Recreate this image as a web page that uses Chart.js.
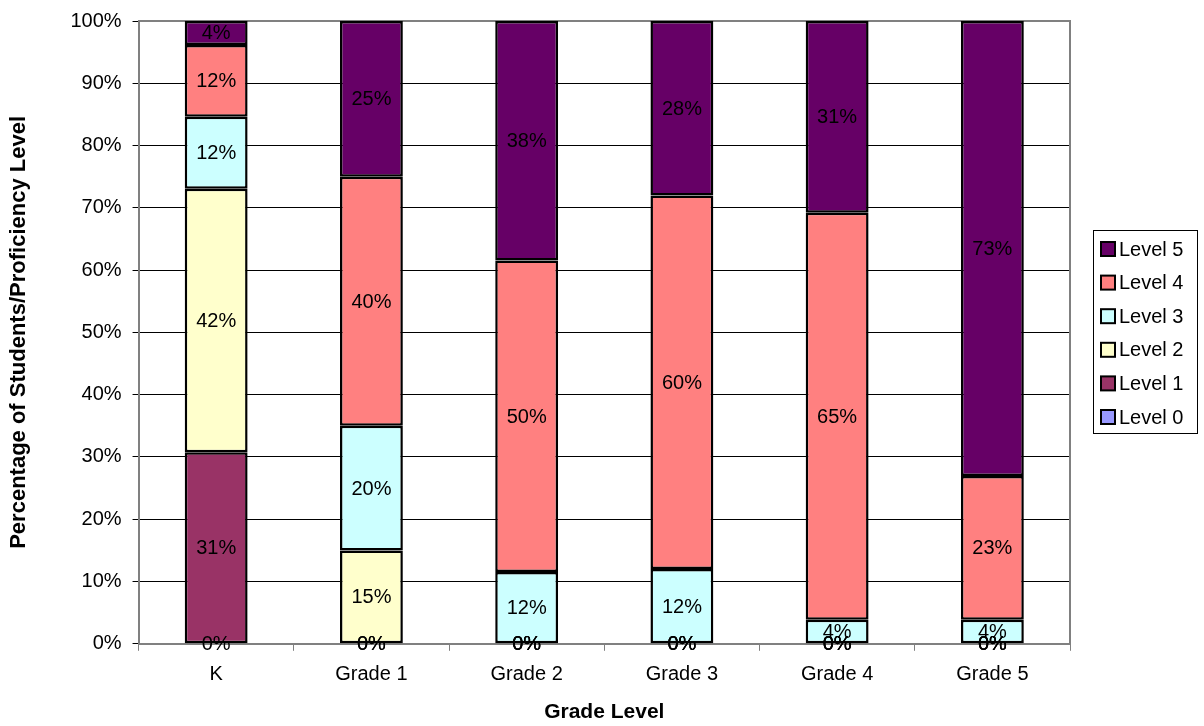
<!DOCTYPE html>
<html>
<head>
<meta charset="utf-8">
<title>Proficiency Levels by Grade</title>
<script src="https://cdn.jsdelivr.net/npm/chart.js@4/dist/chart.umd.min.js"></script>
<style>
    body { margin: 0; background: #fff; }
    #wrap { width: 1204px; height: 726px; }
</style>
</head>
<body>
<div id="wrap"><canvas id="myChart" width="1204" height="726"></canvas></div>
<script>
// grades along the x axis
const grades = ['K', 'Grade 1', 'Grade 2', 'Grade 3', 'Grade 4', 'Grade 5'];
const yTicks = [0, 10, 20, 30, 40, 50, 60, 70, 80, 90, 100];

// percent of students at each level, per grade
const level0 = [0, 0, 0, 0, 0, 0];
const level1 = [30.77, 0, 0, 0, 0, 0];
const level2 = [42.31, 15, 0, 0, 0, 0];
const level3 = [11.54, 20, 11.54, 12, 3.85, 3.85];
const level4 = [11.54, 40, 50, 60, 65.38, 23.08];
const level5 = [3.85, 25, 38.46, 28, 30.77, 73.08];

const levelNames = ['Level 0', 'Level 1', 'Level 2', 'Level 3', 'Level 4', 'Level 5'];
const levelColors = ['#9999FF', '#993366', '#FFFFCC', '#CCFFFF', '#FF8080', '#660066'];
const levelValues = [level0, level1, level2, level3, level4, level5];

const FONT = 'Liberation Sans, Arial, sans-serif';
Chart.defaults.font.family = FONT;
Chart.defaults.color = '#000';

// percent labels in the middle of every segment (zero ones sit on the base)
const segmentLabels = {
    id: 'segmentLabels',
    afterDatasetsDraw(chart) {
        const ctx = chart.ctx;
        ctx.save();
        ctx.font = '20px ' + FONT;
        ctx.fillStyle = '#000';
        ctx.textAlign = 'center';
        ctx.textBaseline = 'middle';
        chart.data.datasets.forEach((ds, i) => {
            chart.getDatasetMeta(i).data.forEach((bar, j) => {
                const y = (bar.y + bar.base) / 2;
                ctx.fillText(Math.round(ds.data[j]) + '%', bar.x, y + 1);
            });
        });
        ctx.restore();
    }
};

// grey frame round the plot area
const plotFrame = {
    id: 'plotFrame',
    beforeDatasetsDraw(chart) {
        const a = chart.chartArea;
        const ctx = chart.ctx;
        ctx.save();
        ctx.strokeStyle = '#808080';
        ctx.lineWidth = 2;
        ctx.beginPath();
        ctx.moveTo(a.left, a.top);
        ctx.lineTo(a.right, a.top);
        ctx.lineTo(a.right, a.bottom);
        ctx.stroke();
        ctx.restore();
    }
};

// boxed legend on the right, top level first
const boxLegend = {
    id: 'boxLegend',
    afterDraw(chart, args, opts) {
        const ctx = chart.ctx;
        ctx.save();
        ctx.strokeStyle = '#000';
        ctx.lineWidth = 1;
        ctx.strokeRect(opts.x + 0.5, opts.y + 0.5, opts.w, opts.h);
        ctx.font = '20px ' + FONT;
        ctx.textAlign = 'left';
        ctx.textBaseline = 'middle';
        const sets = chart.data.datasets.slice().reverse();
        sets.forEach((ds, i) => {
            const cy = opts.y + opts.first + i * opts.step;
            ctx.fillStyle = ds.backgroundColor;
            ctx.fillRect(opts.x + 8, cy - 7, 14, 14);
            ctx.lineWidth = 2;
            ctx.strokeStyle = '#000';
            ctx.strokeRect(opts.x + 8, cy - 7, 14, 14);
            ctx.fillStyle = '#000';
            ctx.fillText(ds.label, opts.x + 26, cy + 1);
        });
        ctx.restore();
    }
};

const ctx = document.getElementById('myChart').getContext('2d');
new Chart(ctx, {
    type: 'bar',
    data: {
        labels: grades,
        datasets: levelNames.map((name, i) => ({
            label: name,
            data: levelValues[i],
            backgroundColor: levelColors[i],
            borderColor: '#000',
            borderWidth: 2.5,
            borderSkipped: false,
            barPercentage: 0.405,
            categoryPercentage: 1
        }))
    },
    options: {
        responsive: false,
        animation: false,
        events: [],
        layout: {
            padding: { left: 0, right: 134, top: 18, bottom: 0 }
        },
        scales: {
            x: {
                stacked: true,
                grid: {
                    display: true,
                    drawOnChartArea: false,
                    offset: true,
                    tickLength: 7,
                    color: '#808080'
                },
                border: { color: '#808080', width: 2 },
                ticks: { padding: 12, font: { size: 20 } },
                title: {
                    display: true,
                    text: 'Grade Level',
                    font: { size: 21, weight: 'bold' },
                    padding: { top: 1, bottom: 1 }
                }
            },
            y: {
                stacked: true,
                min: 0,
                max: 100,
                afterBuildTicks: scale => {
                    scale.ticks = yTicks.map(v => ({ value: v }));
                },
                grid: {
                    color: '#000',
                    lineWidth: 1,
                    tickLength: 6,
                    tickColor: '#000'
                },
                border: { color: '#808080', width: 2 },
                ticks: {
                    padding: 11,
                    font: { size: 20, lineHeight: 1 },
                    callback: v => v + '%'
                },
                title: {
                    display: true,
                    text: 'Percentage of Students/Proficiency Level',
                    font: { size: 22, weight: 'bold' },
                    padding: { top: 6, bottom: 27 }
                }
            }
        },
        plugins: {
            legend: { display: false },
            tooltip: { enabled: false },
            boxLegend: { x: 1093, y: 230, w: 104, h: 203, first: 19, step: 33.6 }
        }
    },
    plugins: [plotFrame, segmentLabels, boxLegend]
});
</script>
</body>
</html>
